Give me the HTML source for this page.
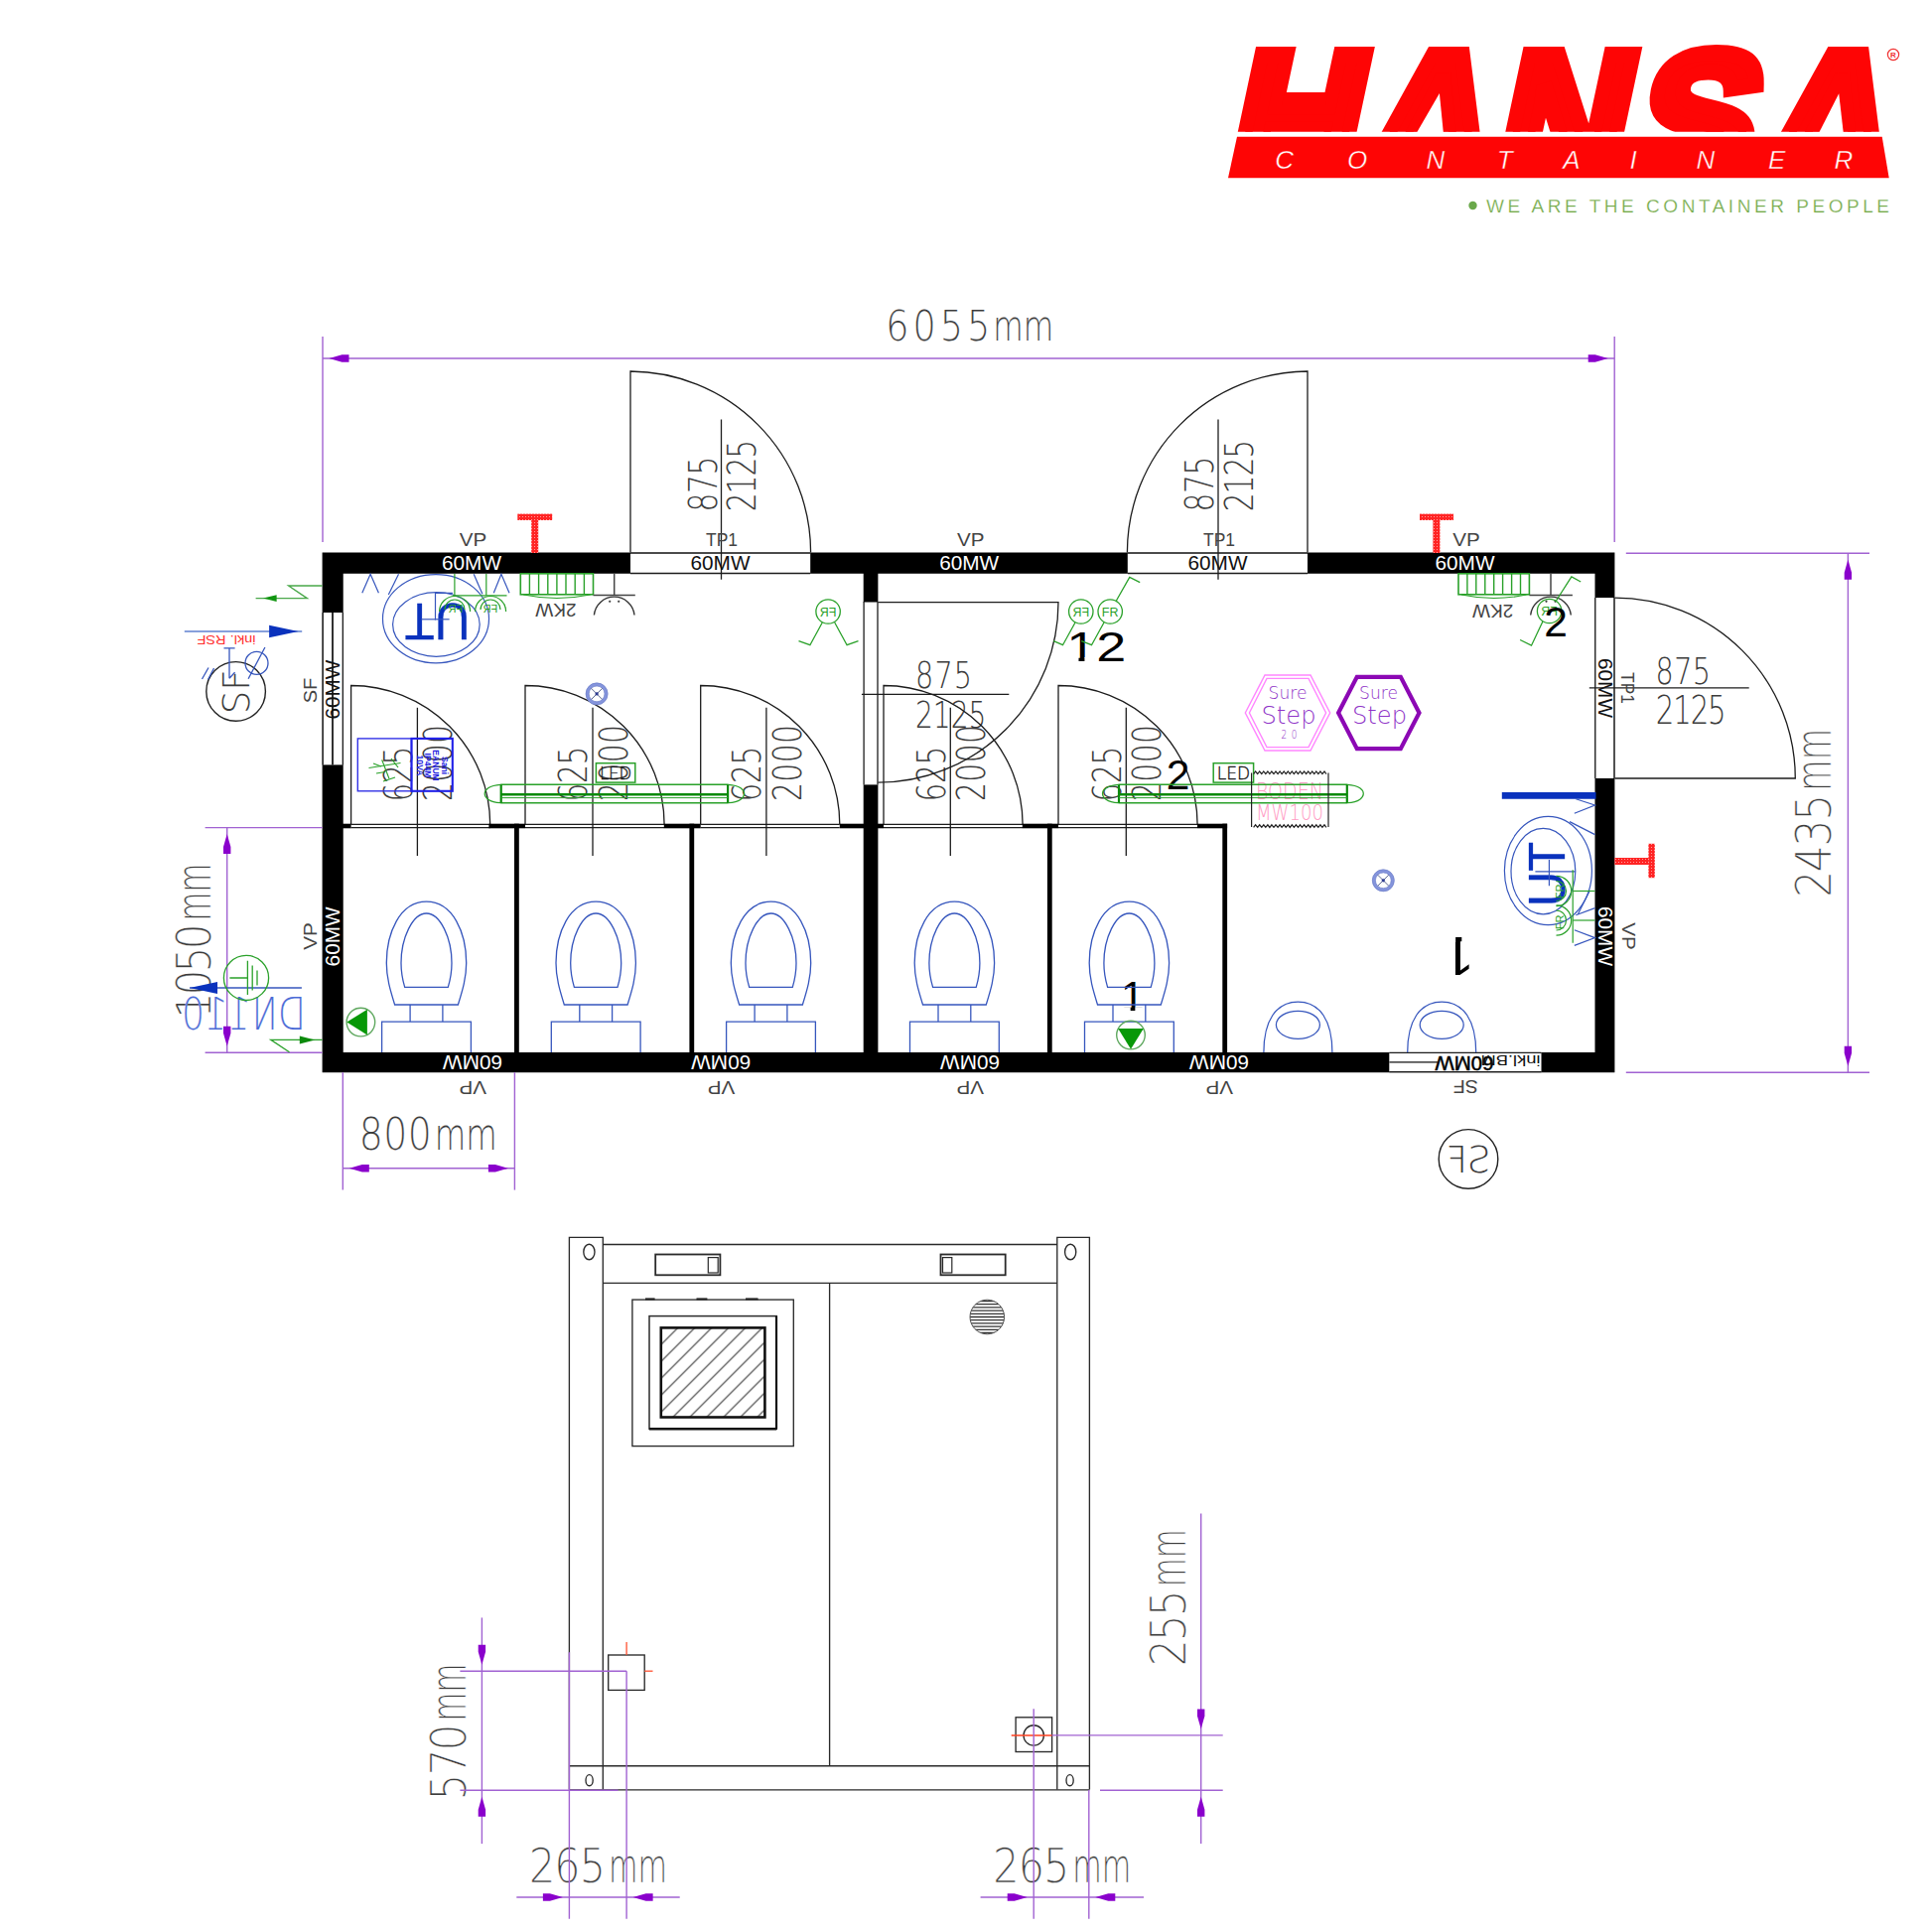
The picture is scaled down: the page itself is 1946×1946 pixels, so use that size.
<!DOCTYPE html>
<html><head><meta charset="utf-8"><title>Hansa Container - Sanitaercontainer Grundriss</title>
<style>html,body{margin:0;padding:0;background:#fff}svg{display:block}</style></head>
<body>
<svg width="1946" height="1946" viewBox="0 0 1946 1946">
<rect width="1946" height="1946" fill="#fff"/>
<text transform="translate(400.4,779.5) rotate(-90) scale(0.76,1)" y="14.2" font-family="'DejaVu Sans Light','DejaVu Sans','Liberation Sans',sans-serif" font-size="39.1" font-weight="200" fill="#3c3c3c" text-anchor="middle" textLength="73.7" lengthAdjust="spacing" >625</text>
<text transform="translate(440.9,768.5) rotate(-90) scale(0.76,1)" y="14.2" font-family="'DejaVu Sans Light','DejaVu Sans','Liberation Sans',sans-serif" font-size="39.1" font-weight="200" fill="#3c3c3c" text-anchor="middle" textLength="101.3" lengthAdjust="spacing" >2000</text>
<text transform="translate(577.0,779.5) rotate(-90) scale(0.76,1)" y="14.2" font-family="'DejaVu Sans Light','DejaVu Sans','Liberation Sans',sans-serif" font-size="39.1" font-weight="200" fill="#3c3c3c" text-anchor="middle" textLength="73.7" lengthAdjust="spacing" >625</text>
<text transform="translate(617.5,768.5) rotate(-90) scale(0.76,1)" y="14.2" font-family="'DejaVu Sans Light','DejaVu Sans','Liberation Sans',sans-serif" font-size="39.1" font-weight="200" fill="#3c3c3c" text-anchor="middle" textLength="101.3" lengthAdjust="spacing" >2000</text>
<text transform="translate(751.9,779.5) rotate(-90) scale(0.76,1)" y="14.2" font-family="'DejaVu Sans Light','DejaVu Sans','Liberation Sans',sans-serif" font-size="39.1" font-weight="200" fill="#3c3c3c" text-anchor="middle" textLength="73.7" lengthAdjust="spacing" >625</text>
<text transform="translate(792.4,768.5) rotate(-90) scale(0.76,1)" y="14.2" font-family="'DejaVu Sans Light','DejaVu Sans','Liberation Sans',sans-serif" font-size="39.1" font-weight="200" fill="#3c3c3c" text-anchor="middle" textLength="101.3" lengthAdjust="spacing" >2000</text>
<text transform="translate(937.3,779.5) rotate(-90) scale(0.76,1)" y="14.2" font-family="'DejaVu Sans Light','DejaVu Sans','Liberation Sans',sans-serif" font-size="39.1" font-weight="200" fill="#3c3c3c" text-anchor="middle" textLength="73.7" lengthAdjust="spacing" >625</text>
<text transform="translate(977.8,768.5) rotate(-90) scale(0.76,1)" y="14.2" font-family="'DejaVu Sans Light','DejaVu Sans','Liberation Sans',sans-serif" font-size="39.1" font-weight="200" fill="#3c3c3c" text-anchor="middle" textLength="101.3" lengthAdjust="spacing" >2000</text>
<text transform="translate(1114.3,779.5) rotate(-90) scale(0.76,1)" y="14.2" font-family="'DejaVu Sans Light','DejaVu Sans','Liberation Sans',sans-serif" font-size="39.1" font-weight="200" fill="#3c3c3c" text-anchor="middle" textLength="73.7" lengthAdjust="spacing" >625</text>
<text transform="translate(1154.8,768.5) rotate(-90) scale(0.76,1)" y="14.2" font-family="'DejaVu Sans Light','DejaVu Sans','Liberation Sans',sans-serif" font-size="39.1" font-weight="200" fill="#3c3c3c" text-anchor="middle" textLength="101.3" lengthAdjust="spacing" >2000</text>
<text transform="translate(707.5,487.5) rotate(-90) scale(0.76,1)" y="14.2" font-family="'DejaVu Sans Light','DejaVu Sans','Liberation Sans',sans-serif" font-size="39.1" font-weight="200" fill="#3c3c3c" text-anchor="middle" textLength="73.7" lengthAdjust="spacing" >875</text>
<text transform="translate(746.8,479.0) rotate(-90) scale(0.76,1)" y="14.2" font-family="'DejaVu Sans Light','DejaVu Sans','Liberation Sans',sans-serif" font-size="39.1" font-weight="200" fill="#3c3c3c" text-anchor="middle" textLength="95.4" lengthAdjust="spacing" >2125</text>
<text transform="translate(1208.0,487.5) rotate(-90) scale(0.76,1)" y="14.2" font-family="'DejaVu Sans Light','DejaVu Sans','Liberation Sans',sans-serif" font-size="39.1" font-weight="200" fill="#3c3c3c" text-anchor="middle" textLength="73.7" lengthAdjust="spacing" >875</text>
<text transform="translate(1247.3,479.0) rotate(-90) scale(0.76,1)" y="14.2" font-family="'DejaVu Sans Light','DejaVu Sans','Liberation Sans',sans-serif" font-size="39.1" font-weight="200" fill="#3c3c3c" text-anchor="middle" textLength="95.4" lengthAdjust="spacing" >2125</text>
<text transform="translate(1695.3,675.0) rotate(0) scale(0.76,1)" y="13.8" font-family="'DejaVu Sans Light','DejaVu Sans','Liberation Sans',sans-serif" font-size="37.7" font-weight="200" fill="#3c3c3c" text-anchor="middle" textLength="73.0" lengthAdjust="spacing" >875</text>
<text transform="translate(1703.2,714.5) rotate(0) scale(0.76,1)" y="14.0" font-family="'DejaVu Sans Light','DejaVu Sans','Liberation Sans',sans-serif" font-size="38.4" font-weight="200" fill="#3c3c3c" text-anchor="middle" textLength="93.4" lengthAdjust="spacing" >2125</text>
<text transform="translate(950.5,679.5) rotate(0) scale(0.76,1)" y="13.8" font-family="'DejaVu Sans Light','DejaVu Sans','Liberation Sans',sans-serif" font-size="37.7" font-weight="200" fill="#3c3c3c" text-anchor="middle" textLength="75.0" lengthAdjust="spacing" >875</text>
<text transform="translate(957.7,719.5) rotate(0) scale(0.76,1)" y="13.5" font-family="'DejaVu Sans Light','DejaVu Sans','Liberation Sans',sans-serif" font-size="37.0" font-weight="200" fill="#3c3c3c" text-anchor="middle" textLength="94.1" lengthAdjust="spacing" >2125</text>
<g transform="translate(1104.2,650.5) rotate(0) scale(1.27,1)">
<text y="15.2" font-family="'Liberation Sans',sans-serif" font-size="42.5" fill="#000" text-anchor="middle">12</text>
<rect x="-22.02" y="11.47" width="8.07" height="4.25" fill="#fff"/>
<rect x="-9.27" y="11.47" width="8.07" height="4.25" fill="#fff"/>
</g>
<g transform="translate(1140.8,1003.0) rotate(0) scale(1,1)">
<text y="15.2" font-family="'Liberation Sans',sans-serif" font-size="42.5" fill="#000" text-anchor="middle">1</text>
<rect x="-10.20" y="11.47" width="8.07" height="4.25" fill="#fff"/>
<rect x="2.55" y="11.47" width="8.07" height="4.25" fill="#fff"/>
</g>
<g transform="translate(1469.5,964.2) rotate(180) scale(1,1)">
<text y="20.0" font-family="'Liberation Sans',sans-serif" font-size="56" fill="#000" text-anchor="middle">1</text>
<rect x="-13.44" y="15.12" width="10.64" height="5.60" fill="#fff"/>
<rect x="3.36" y="15.12" width="10.64" height="5.60" fill="#fff"/>
</g>
<text transform="translate(1297.0,697.5) rotate(0)" y="6.2" font-family="'DejaVu Sans Light','DejaVu Sans','Liberation Sans',sans-serif" font-size="17.1" font-weight="200" fill="#8f35c8" text-anchor="middle" textLength="39.0" lengthAdjust="spacingAndGlyphs" >Sure</text>
<text transform="translate(1298.0,720.5) rotate(0)" y="8.8" font-family="'DejaVu Sans Light','DejaVu Sans','Liberation Sans',sans-serif" font-size="24.0" font-weight="200" fill="#8f35c8" text-anchor="middle" textLength="55.0" lengthAdjust="spacingAndGlyphs" >Step</text>
<text transform="translate(1298.5,740.0) rotate(0) scale(0.76,1)" y="4.2" font-family="'DejaVu Sans Light','DejaVu Sans','Liberation Sans',sans-serif" font-size="11.7" font-weight="200" fill="#8f35c8" text-anchor="middle" textLength="21.1" lengthAdjust="spacing" >20</text>
<text transform="translate(1388.5,697.5) rotate(0)" y="6.2" font-family="'DejaVu Sans Light','DejaVu Sans','Liberation Sans',sans-serif" font-size="17.1" font-weight="200" fill="#8f35c8" text-anchor="middle" textLength="39.0" lengthAdjust="spacingAndGlyphs" >Sure</text>
<text transform="translate(1389.5,720.5) rotate(0)" y="8.8" font-family="'DejaVu Sans Light','DejaVu Sans','Liberation Sans',sans-serif" font-size="24.0" font-weight="200" fill="#8f35c8" text-anchor="middle" textLength="55.0" lengthAdjust="spacingAndGlyphs" >Step</text>
<text transform="translate(1299.0,796.0) rotate(0)" y="8.5" font-family="'DejaVu Sans Light','DejaVu Sans','Liberation Sans',sans-serif" font-size="23.3" font-weight="200" fill="#ff9cc4" text-anchor="middle" textLength="68.0" lengthAdjust="spacingAndGlyphs" >BODEN</text>
<text transform="translate(1299.0,818.0) rotate(0)" y="8.0" font-family="'DejaVu Sans Light','DejaVu Sans','Liberation Sans',sans-serif" font-size="21.9" font-weight="200" fill="#ff9cc4" text-anchor="middle" textLength="68.0" lengthAdjust="spacingAndGlyphs" >MW100</text>
<text transform="translate(237.3,696.8) rotate(-90)" y="13.8" font-family="'DejaVu Sans Light','DejaVu Sans','Liberation Sans',sans-serif" font-size="37.7" font-weight="200" fill="#3c3c3c" text-anchor="middle" textLength="45.0" lengthAdjust="spacingAndGlyphs" >SF</text>
<text transform="translate(1479.0,1167.4) rotate(0) scale(-1,1)" y="13.8" font-family="'DejaVu Sans Light','DejaVu Sans','Liberation Sans',sans-serif" font-size="37.7" font-weight="200" fill="#3c3c3c" text-anchor="middle" textLength="45.0" lengthAdjust="spacingAndGlyphs" >SF</text>
<g transform="translate(976.7,327.5) rotate(0)" font-family="'DejaVu Sans Light','DejaVu Sans','Liberation Sans',sans-serif" font-weight="200" font-size="42.5" fill="#3c3c3c" stroke="#fff" stroke-width="0.14"><text transform="translate(-84.5,0) scale(0.86,1)" y="15.5" textLength="122.1" lengthAdjust="spacing">6055</text><text x="23.5" y="15.5" textLength="61.0" lengthAdjust="spacingAndGlyphs">mm</text></g>
<g transform="translate(1826.3,818.8) rotate(-90)" font-family="'DejaVu Sans Light','DejaVu Sans','Liberation Sans',sans-serif" font-weight="200" font-size="49.4" fill="#3c3c3c" stroke="#fff" stroke-width="0.42"><text transform="translate(-85.0,0) scale(0.86,1)" y="18.0" textLength="120.9" lengthAdjust="spacing">2435</text><text x="22.0" y="18.0" textLength="63.0" lengthAdjust="spacingAndGlyphs">mm</text></g>
<g transform="translate(194.5,947.5) rotate(-90)" font-family="'DejaVu Sans Light','DejaVu Sans','Liberation Sans',sans-serif" font-weight="200" font-size="47.3" fill="#3c3c3c" stroke="#fff" stroke-width="0.34"><text transform="translate(-78.0,0) scale(0.86,1)" y="17.2" textLength="110.5" lengthAdjust="spacing">1050</text><text x="20.0" y="17.2" textLength="58.0" lengthAdjust="spacingAndGlyphs">mm</text></g>
<g transform="translate(431.3,1142.0) rotate(0)" font-family="'DejaVu Sans Light','DejaVu Sans','Liberation Sans',sans-serif" font-weight="200" font-size="43.9" fill="#3c3c3c" stroke="#fff" stroke-width="0.19"><text transform="translate(-69.5,0) scale(0.86,1)" y="16.0" textLength="84.9" lengthAdjust="spacing">800</text><text x="6.5" y="16.0" textLength="63.0" lengthAdjust="spacingAndGlyphs">mm</text></g>
<text transform="translate(245.4,1021.0) rotate(0) scale(-1,1)" y="16.0" font-family="'DejaVu Sans Light','DejaVu Sans','Liberation Sans',sans-serif" font-size="43.9" font-weight="200" fill="#4a6ad6" text-anchor="middle" textLength="125.0" lengthAdjust="spacingAndGlyphs" stroke="#fff" stroke-width="0.19">DN110</text>
<g transform="translate(450.5,1744.5) rotate(-90)" font-family="'DejaVu Sans Light','DejaVu Sans','Liberation Sans',sans-serif" font-weight="200" font-size="49.4" fill="#3c3c3c" stroke="#fff" stroke-width="0.42"><text transform="translate(-69.0,0) scale(0.86,1)" y="18.0" textLength="89.5" lengthAdjust="spacing">570</text><text x="11.0" y="18.0" textLength="58.0" lengthAdjust="spacingAndGlyphs">mm</text></g>
<g transform="translate(602.5,1878.5) rotate(0)" font-family="'DejaVu Sans Light','DejaVu Sans','Liberation Sans',sans-serif" font-weight="200" font-size="48.0" fill="#3c3c3c" stroke="#fff" stroke-width="0.37"><text transform="translate(-69.5,0) scale(0.86,1)" y="17.5" textLength="89.5" lengthAdjust="spacing">265</text><text x="10.5" y="17.5" textLength="59.0" lengthAdjust="spacingAndGlyphs">mm</text></g>
<g transform="translate(1175.5,1609.3) rotate(-90)" font-family="'DejaVu Sans Light','DejaVu Sans','Liberation Sans',sans-serif" font-weight="200" font-size="49.4" fill="#3c3c3c" stroke="#fff" stroke-width="0.42"><text transform="translate(-69.0,0) scale(0.86,1)" y="18.0" textLength="89.5" lengthAdjust="spacing">255</text><text x="11.0" y="18.0" textLength="58.0" lengthAdjust="spacingAndGlyphs">mm</text></g>
<g transform="translate(1069.8,1878.5) rotate(0)" font-family="'DejaVu Sans Light','DejaVu Sans','Liberation Sans',sans-serif" font-weight="200" font-size="48.0" fill="#3c3c3c" stroke="#fff" stroke-width="0.37"><text transform="translate(-69.5,0) scale(0.86,1)" y="17.5" textLength="89.5" lengthAdjust="spacing">265</text><text x="10.5" y="17.5" textLength="59.0" lengthAdjust="spacingAndGlyphs">mm</text></g>
<defs><clipPath id="lc"><rect x="1230" y="40" width="690" height="92.7"/></clipPath></defs>
<g clip-path="url(#lc)"><text id="hansa" transform="translate(1230.65,187.4) skewX(-12) scale(0.93,1)" x="0 144.7 290 438.7 577.2" y="0" font-family="'Liberation Sans',sans-serif" font-weight="bold" font-size="192" fill="#fe0505" stroke="#fe0505" stroke-width="16" stroke-linejoin="miter" stroke-miterlimit="2.5">HANSA</text></g>
<polygon points="1294.0,93.0 1338.0,93.0 1335.0,106.0 1291.0,106.0" fill="#fe0505" />
<polygon points="1449.9,94.0 1453.8,133.2 1427.2,133.2" fill="#fff" />
<polygon points="1852.2,94.3 1856.7,133.2 1832.4,133.2" fill="#fff" />
<polygon points="1246.0,137.7 1895.7,137.7 1902.7,179.2 1237.0,179.2" fill="#fe0505" />
<text x="1284.2 1356.9 1436.6 1507.7 1574.3 1641.4 1708.6 1781.0 1847.6" y="169.5" font-family="'Liberation Sans',sans-serif" font-style="italic" font-size="26" fill="#fff" stroke="#fe0505" stroke-width="0.45">CONTAINER</text>
<text x="1497" y="213.5" font-family="'Liberation Sans',sans-serif" font-size="19" fill="#74aa48" stroke="#fff" stroke-width="0.25" textLength="406" lengthAdjust="spacing">WE ARE THE CONTAINER PEOPLE</text>
<circle cx="1483.5" cy="207.0" r="4.2" fill="#6aa84a" stroke="none" stroke-width="0"/>
<circle cx="1907.0" cy="55.0" r="5.6" fill="none" stroke="#f03030" stroke-width="1.2"/>
<text transform="translate(1907.0,55.0) rotate(0)" y="2.9" font-family="'Liberation Sans',sans-serif" font-size="8" font-weight="bold" fill="#f03030" text-anchor="middle" >R</text>
<ellipse cx="439.0" cy="623.2" rx="53.5" ry="44.6" fill="none" stroke="#3656bd" stroke-width="1.2"/>
<ellipse cx="439.4" cy="629.0" rx="43.8" ry="32.3" fill="none" stroke="#3656bd" stroke-width="1.2"/>
<ellipse cx="1559.4" cy="877.0" rx="44.0" ry="54.6" fill="none" stroke="#3656bd" stroke-width="1.2"/>
<ellipse cx="1554.4" cy="877.6" rx="32.4" ry="43.2" fill="none" stroke="#3656bd" stroke-width="1.2"/>
<path d="M324.6,556.6H1626.4V1080.2H324.6Z M345.70000000000005,577.8V1060.0H1606.5V577.8Z" fill="#000" fill-rule="evenodd"/>
<rect x="635.0" y="557.2" width="181.2" height="20.3" fill="#fff" />
<line x1="635.0" y1="557.2" x2="816.2" y2="557.2" stroke="#1c1c1c" stroke-width="1.3" />
<line x1="635.0" y1="577.5" x2="816.2" y2="577.5" stroke="#1c1c1c" stroke-width="1.3" />
<rect x="1135.8" y="557.2" width="181.2" height="20.3" fill="#fff" />
<line x1="1135.8" y1="557.2" x2="1317.0" y2="557.2" stroke="#1c1c1c" stroke-width="1.3" />
<line x1="1135.8" y1="577.5" x2="1317.0" y2="577.5" stroke="#1c1c1c" stroke-width="1.3" />
<rect x="325.2" y="617.0" width="20.1" height="153.4" fill="#fff" />
<line x1="325.2" y1="617.0" x2="325.2" y2="770.4" stroke="#1c1c1c" stroke-width="1.3" />
<line x1="345.3" y1="617.0" x2="345.3" y2="770.4" stroke="#1c1c1c" stroke-width="1.3" />
<line x1="335.0" y1="617.0" x2="335.0" y2="770.4" stroke="#1c1c1c" stroke-width="1.8" />
<rect x="1606.8" y="602.0" width="19.1" height="182.0" fill="#fff" />
<line x1="1606.8" y1="602.0" x2="1606.8" y2="784.0" stroke="#1c1c1c" stroke-width="1.3" />
<line x1="1625.9" y1="602.0" x2="1625.9" y2="784.0" stroke="#1c1c1c" stroke-width="1.3" />
<rect x="1399.3" y="1060.4" width="153.2" height="19.2" fill="#fff" />
<line x1="1399.3" y1="1060.4" x2="1552.5" y2="1060.4" stroke="#1c1c1c" stroke-width="1.3" />
<line x1="1399.3" y1="1079.6" x2="1552.5" y2="1079.6" stroke="#1c1c1c" stroke-width="1.3" />
<line x1="1399.3" y1="1069.9" x2="1448.0" y2="1069.9" stroke="#555" stroke-width="1.9" />
<rect x="869.7" y="576.8" width="14.7" height="29.7" fill="#000" />
<rect x="869.7" y="790.4" width="14.7" height="270.6" fill="#000" />
<line x1="870.1" y1="606.0" x2="870.1" y2="790.4" stroke="#1c1c1c" stroke-width="1.3" />
<line x1="884.0" y1="606.0" x2="884.0" y2="790.4" stroke="#1c1c1c" stroke-width="1.3" />
<path d="M635.0,556.6L635.0,374.0A182.6,182.6 0 0 1 816.6,556.6" fill="none" stroke="#1c1c1c" stroke-width="1.3" />
<path d="M1317.0,556.6L1317.0,374.0A182.6,182.6 0 0 0 1135.4,556.6" fill="none" stroke="#1c1c1c" stroke-width="1.3" />
<path d="M1626.4,784.0L1808.3,784.0A181.9,181.9 0 0 0 1626.4,602.1" fill="none" stroke="#1c1c1c" stroke-width="1.3" />
<path d="M884.4,606.6L1066.0,606.6A181.6,181.6 0 0 1 884.4,788.2" fill="none" stroke="#1c1c1c" stroke-width="1.3" />
<path d="M353.6,830.6L353.6,690.5A140.1,140.1 0 0 1 493.7,830.6" fill="none" stroke="#1c1c1c" stroke-width="1.3" />
<line x1="353.6" y1="830.3" x2="493.6" y2="830.3" stroke="#1c1c1c" stroke-width="1.3" />
<line x1="353.6" y1="833.6" x2="493.6" y2="833.6" stroke="#1c1c1c" stroke-width="1.3" />
<path d="M529.0,830.6L529.0,690.5A140.1,140.1 0 0 1 669.1,830.6" fill="none" stroke="#1c1c1c" stroke-width="1.3" />
<line x1="529.0" y1="830.3" x2="669.0" y2="830.3" stroke="#1c1c1c" stroke-width="1.3" />
<line x1="529.0" y1="833.6" x2="669.0" y2="833.6" stroke="#1c1c1c" stroke-width="1.3" />
<path d="M705.7,830.6L705.7,690.5A140.1,140.1 0 0 1 845.8,830.6" fill="none" stroke="#1c1c1c" stroke-width="1.3" />
<line x1="705.7" y1="830.3" x2="845.7" y2="830.3" stroke="#1c1c1c" stroke-width="1.3" />
<line x1="705.7" y1="833.6" x2="845.7" y2="833.6" stroke="#1c1c1c" stroke-width="1.3" />
<path d="M890.0,830.6L890.0,690.5A140.1,140.1 0 0 1 1030.1,830.6" fill="none" stroke="#1c1c1c" stroke-width="1.3" />
<line x1="890.0" y1="830.3" x2="1030.0" y2="830.3" stroke="#1c1c1c" stroke-width="1.3" />
<line x1="890.0" y1="833.6" x2="1030.0" y2="833.6" stroke="#1c1c1c" stroke-width="1.3" />
<path d="M1066.0,830.6L1066.0,690.5A140.1,140.1 0 0 1 1206.1,830.6" fill="none" stroke="#1c1c1c" stroke-width="1.3" />
<line x1="1066.0" y1="830.3" x2="1206.0" y2="830.3" stroke="#1c1c1c" stroke-width="1.3" />
<line x1="1066.0" y1="833.6" x2="1206.0" y2="833.6" stroke="#1c1c1c" stroke-width="1.3" />
<rect x="344.7" y="829.7" width="8.9" height="4.6" fill="#000" />
<rect x="492.4" y="829.7" width="36.6" height="4.6" fill="#000" />
<rect x="668.8" y="829.7" width="36.9" height="4.6" fill="#000" />
<rect x="845.8" y="829.7" width="24.9" height="4.6" fill="#000" />
<rect x="883.4" y="829.7" width="6.6" height="4.6" fill="#000" />
<rect x="1029.8" y="829.7" width="36.2" height="4.6" fill="#000" />
<rect x="1206.0" y="829.7" width="30.1" height="4.6" fill="#000" />
<rect x="518.0" y="829.7" width="4.8" height="231.3" fill="#000" />
<rect x="694.4" y="829.7" width="4.8" height="231.3" fill="#000" />
<rect x="1054.9" y="829.7" width="4.8" height="231.3" fill="#000" />
<rect x="1231.3" y="829.7" width="4.8" height="231.3" fill="#000" />
<line x1="420.4" y1="712.8" x2="420.4" y2="862.0" stroke="#1c1c1c" stroke-width="1.3" />
<line x1="597.0" y1="712.8" x2="597.0" y2="862.0" stroke="#1c1c1c" stroke-width="1.3" />
<line x1="771.9" y1="712.8" x2="771.9" y2="862.0" stroke="#1c1c1c" stroke-width="1.3" />
<line x1="957.3" y1="712.8" x2="957.3" y2="862.0" stroke="#1c1c1c" stroke-width="1.3" />
<line x1="1134.3" y1="712.8" x2="1134.3" y2="862.0" stroke="#1c1c1c" stroke-width="1.3" />
<line x1="726.5" y1="422.5" x2="726.5" y2="583.7" stroke="#1c1c1c" stroke-width="1.3" />
<line x1="1227.0" y1="422.5" x2="1227.0" y2="583.7" stroke="#1c1c1c" stroke-width="1.3" />
<line x1="1600.8" y1="692.9" x2="1761.7" y2="692.9" stroke="#1c1c1c" stroke-width="1.3" />
<line x1="867.9" y1="699.4" x2="1016.3" y2="699.4" stroke="#1c1c1c" stroke-width="1.3" />
<path d="M397.6,1012 C393.0,997.0 389.3,985.0 389.3,970.0 C389.3,940.0 402.5,908.2 429.5,908.2 C456.5,908.2 469.7,940.0 469.7,970.0 C469.7,985.0 466.0,997.0 461.4,1012.0Z" fill="none" stroke="#3656bd" stroke-width="1.3" />
<path d="M407.7,994.4 C405.5,987.0 404.0,979.0 404.0,970.0 C404.0,945.0 415.5,920.0 429.5,920.0 C443.5,920.0 455.0,945.0 455.0,970.0 C455.0,979.0 453.5,987.0 451.3,994.4Z" fill="none" stroke="#3656bd" stroke-width="1.3" />
<line x1="413.1" y1="1012.0" x2="413.1" y2="1029.1" stroke="#3656bd" stroke-width="1.3" />
<line x1="445.9" y1="1012.0" x2="445.9" y2="1029.1" stroke="#3656bd" stroke-width="1.3" />
<path d="M384.6,1060 V1029.1 H474.4 V1060" fill="none" stroke="#3656bd" stroke-width="1.3" />
<path d="M568.3,1012 C563.7,997.0 560.0,985.0 560.0,970.0 C560.0,940.0 573.2,908.2 600.2,908.2 C627.2,908.2 640.4,940.0 640.4,970.0 C640.4,985.0 636.7,997.0 632.1,1012.0Z" fill="none" stroke="#3656bd" stroke-width="1.3" />
<path d="M578.4,994.4 C576.2,987.0 574.7,979.0 574.7,970.0 C574.7,945.0 586.2,920.0 600.2,920.0 C614.2,920.0 625.7,945.0 625.7,970.0 C625.7,979.0 624.2,987.0 622.0,994.4Z" fill="none" stroke="#3656bd" stroke-width="1.3" />
<line x1="583.8" y1="1012.0" x2="583.8" y2="1029.1" stroke="#3656bd" stroke-width="1.3" />
<line x1="616.6" y1="1012.0" x2="616.6" y2="1029.1" stroke="#3656bd" stroke-width="1.3" />
<path d="M555.3,1060 V1029.1 H645.1 V1060" fill="none" stroke="#3656bd" stroke-width="1.3" />
<path d="M744.6,1012 C740.0,997.0 736.3,985.0 736.3,970.0 C736.3,940.0 749.5,908.2 776.5,908.2 C803.5,908.2 816.7,940.0 816.7,970.0 C816.7,985.0 813.0,997.0 808.4,1012.0Z" fill="none" stroke="#3656bd" stroke-width="1.3" />
<path d="M754.7,994.4 C752.5,987.0 751.0,979.0 751.0,970.0 C751.0,945.0 762.5,920.0 776.5,920.0 C790.5,920.0 802.0,945.0 802.0,970.0 C802.0,979.0 800.5,987.0 798.3,994.4Z" fill="none" stroke="#3656bd" stroke-width="1.3" />
<line x1="760.1" y1="1012.0" x2="760.1" y2="1029.1" stroke="#3656bd" stroke-width="1.3" />
<line x1="792.9" y1="1012.0" x2="792.9" y2="1029.1" stroke="#3656bd" stroke-width="1.3" />
<path d="M731.6,1060 V1029.1 H821.4 V1060" fill="none" stroke="#3656bd" stroke-width="1.3" />
<path d="M929.5,1012 C924.9,997.0 921.2,985.0 921.2,970.0 C921.2,940.0 934.4,908.2 961.4,908.2 C988.4,908.2 1001.6,940.0 1001.6,970.0 C1001.6,985.0 997.9,997.0 993.3,1012.0Z" fill="none" stroke="#3656bd" stroke-width="1.3" />
<path d="M939.6,994.4 C937.4,987.0 935.9,979.0 935.9,970.0 C935.9,945.0 947.4,920.0 961.4,920.0 C975.4,920.0 986.9,945.0 986.9,970.0 C986.9,979.0 985.4,987.0 983.2,994.4Z" fill="none" stroke="#3656bd" stroke-width="1.3" />
<line x1="945.0" y1="1012.0" x2="945.0" y2="1029.1" stroke="#3656bd" stroke-width="1.3" />
<line x1="977.8" y1="1012.0" x2="977.8" y2="1029.1" stroke="#3656bd" stroke-width="1.3" />
<path d="M916.5,1060 V1029.1 H1006.3 V1060" fill="none" stroke="#3656bd" stroke-width="1.3" />
<path d="M1105.5,1012 C1100.9,997.0 1097.2,985.0 1097.2,970.0 C1097.2,940.0 1110.4,908.2 1137.4,908.2 C1164.4,908.2 1177.6,940.0 1177.6,970.0 C1177.6,985.0 1173.9,997.0 1169.3,1012.0Z" fill="none" stroke="#3656bd" stroke-width="1.3" />
<path d="M1115.6,994.4 C1113.4,987.0 1111.9,979.0 1111.9,970.0 C1111.9,945.0 1123.4,920.0 1137.4,920.0 C1151.4,920.0 1162.9,945.0 1162.9,970.0 C1162.9,979.0 1161.4,987.0 1159.2,994.4Z" fill="none" stroke="#3656bd" stroke-width="1.3" />
<line x1="1121.0" y1="1012.0" x2="1121.0" y2="1029.1" stroke="#3656bd" stroke-width="1.3" />
<line x1="1153.8" y1="1012.0" x2="1153.8" y2="1029.1" stroke="#3656bd" stroke-width="1.3" />
<path d="M1092.5,1060 V1029.1 H1182.3 V1060" fill="none" stroke="#3656bd" stroke-width="1.3" />
<path d="M1272.9,1060 C1272.9,1028 1285.4,1009 1307.4,1009 C1329.4,1009 1341.9,1028 1341.9,1060" fill="none" stroke="#3656bd" stroke-width="1.25" />
<ellipse cx="1307.4" cy="1032.3" rx="22.0" ry="14.0" fill="none" stroke="#3656bd" stroke-width="1.25"/>
<path d="M1417.7,1060 C1417.7,1028 1430.2,1009 1452.2,1009 C1474.2,1009 1486.7,1028 1486.7,1060" fill="none" stroke="#3656bd" stroke-width="1.25" />
<ellipse cx="1452.2" cy="1032.3" rx="22.0" ry="14.0" fill="none" stroke="#3656bd" stroke-width="1.25"/>
<circle cx="601.1" cy="698.9" r="9.5" fill="#fff" stroke="#8494dc" stroke-width="3.2"/>
<circle cx="601.1" cy="698.9" r="11.0" fill="none" stroke="#6f80c8" stroke-width="0.7"/>
<circle cx="601.1" cy="698.9" r="7.9" fill="none" stroke="#6f80c8" stroke-width="0.7"/>
<line x1="595.5" y1="693.3" x2="606.7" y2="704.5" stroke="#5b6890" stroke-width="1.0" />
<line x1="595.5" y1="704.5" x2="606.7" y2="693.3" stroke="#5b6890" stroke-width="1.0" />
<circle cx="601.1" cy="698.9" r="1.4" fill="#2c3a90" stroke="#2c3a90" stroke-width="0.5"/>
<circle cx="1393.3" cy="886.8" r="9.5" fill="#fff" stroke="#8494dc" stroke-width="3.2"/>
<circle cx="1393.3" cy="886.8" r="11.0" fill="none" stroke="#6f80c8" stroke-width="0.7"/>
<circle cx="1393.3" cy="886.8" r="7.9" fill="none" stroke="#6f80c8" stroke-width="0.7"/>
<line x1="1387.7" y1="881.2" x2="1398.9" y2="892.4" stroke="#5b6890" stroke-width="1.0" />
<line x1="1387.7" y1="892.4" x2="1398.9" y2="881.2" stroke="#5b6890" stroke-width="1.0" />
<circle cx="1393.3" cy="886.8" r="1.4" fill="#2c3a90" stroke="#2c3a90" stroke-width="0.5"/>
<text transform="translate(476.5,543.0) rotate(0)" y="6.5" font-family="'Liberation Sans',sans-serif" font-size="18.2" fill="#444" text-anchor="middle" textLength="27.5" lengthAdjust="spacingAndGlyphs" >VP</text>
<text transform="translate(475.0,566.9) rotate(0)" y="7.0" font-family="'Liberation Sans',sans-serif" font-size="19.6" fill="#fff" text-anchor="middle" textLength="60.0" lengthAdjust="spacingAndGlyphs" >60MW</text>
<text transform="translate(727.0,543.0) rotate(0)" y="6.5" font-family="'Liberation Sans',sans-serif" font-size="18.2" fill="#444" text-anchor="middle" textLength="32.0" lengthAdjust="spacingAndGlyphs" >TP1</text>
<text transform="translate(725.5,566.9) rotate(0)" y="7.0" font-family="'Liberation Sans',sans-serif" font-size="19.6" fill="#111" text-anchor="middle" textLength="60.0" lengthAdjust="spacingAndGlyphs" >60MW</text>
<text transform="translate(977.7,543.0) rotate(0)" y="6.5" font-family="'Liberation Sans',sans-serif" font-size="18.2" fill="#444" text-anchor="middle" textLength="27.5" lengthAdjust="spacingAndGlyphs" >VP</text>
<text transform="translate(976.2,566.9) rotate(0)" y="7.0" font-family="'Liberation Sans',sans-serif" font-size="19.6" fill="#fff" text-anchor="middle" textLength="60.0" lengthAdjust="spacingAndGlyphs" >60MW</text>
<text transform="translate(1228.0,543.0) rotate(0)" y="6.5" font-family="'Liberation Sans',sans-serif" font-size="18.2" fill="#444" text-anchor="middle" textLength="32.0" lengthAdjust="spacingAndGlyphs" >TP1</text>
<text transform="translate(1226.5,566.9) rotate(0)" y="7.0" font-family="'Liberation Sans',sans-serif" font-size="19.6" fill="#111" text-anchor="middle" textLength="60.0" lengthAdjust="spacingAndGlyphs" >60MW</text>
<text transform="translate(1477.0,543.0) rotate(0)" y="6.5" font-family="'Liberation Sans',sans-serif" font-size="18.2" fill="#444" text-anchor="middle" textLength="27.5" lengthAdjust="spacingAndGlyphs" >VP</text>
<text transform="translate(1475.5,566.9) rotate(0)" y="7.0" font-family="'Liberation Sans',sans-serif" font-size="19.6" fill="#fff" text-anchor="middle" textLength="60.0" lengthAdjust="spacingAndGlyphs" >60MW</text>
<text transform="translate(476.0,1070.2) rotate(180)" y="7.0" font-family="'Liberation Sans',sans-serif" font-size="19.6" fill="#fff" text-anchor="middle" textLength="60.0" lengthAdjust="spacingAndGlyphs" >60MW</text>
<text transform="translate(476.3,1095.3) rotate(180)" y="6.5" font-family="'Liberation Sans',sans-serif" font-size="18.2" fill="#444" text-anchor="middle" textLength="27.5" lengthAdjust="spacingAndGlyphs" >VP</text>
<text transform="translate(726.2,1070.2) rotate(180)" y="7.0" font-family="'Liberation Sans',sans-serif" font-size="19.6" fill="#fff" text-anchor="middle" textLength="60.0" lengthAdjust="spacingAndGlyphs" >60MW</text>
<text transform="translate(726.5,1095.3) rotate(180)" y="6.5" font-family="'Liberation Sans',sans-serif" font-size="18.2" fill="#444" text-anchor="middle" textLength="27.5" lengthAdjust="spacingAndGlyphs" >VP</text>
<text transform="translate(977.0,1070.2) rotate(180)" y="7.0" font-family="'Liberation Sans',sans-serif" font-size="19.6" fill="#fff" text-anchor="middle" textLength="60.0" lengthAdjust="spacingAndGlyphs" >60MW</text>
<text transform="translate(977.3,1095.3) rotate(180)" y="6.5" font-family="'Liberation Sans',sans-serif" font-size="18.2" fill="#444" text-anchor="middle" textLength="27.5" lengthAdjust="spacingAndGlyphs" >VP</text>
<text transform="translate(1228.0,1070.2) rotate(180)" y="7.0" font-family="'Liberation Sans',sans-serif" font-size="19.6" fill="#fff" text-anchor="middle" textLength="60.0" lengthAdjust="spacingAndGlyphs" >60MW</text>
<text transform="translate(1228.3,1095.3) rotate(180)" y="6.5" font-family="'Liberation Sans',sans-serif" font-size="18.2" fill="#444" text-anchor="middle" textLength="27.5" lengthAdjust="spacingAndGlyphs" >VP</text>
<text transform="translate(1474.9,1071.3) rotate(180)" y="7.3" font-family="'Liberation Sans',sans-serif" font-size="20.5" fill="#000" text-anchor="middle" textLength="59.0" lengthAdjust="spacingAndGlyphs" stroke="#000" stroke-width="0.5">60MW</text>
<text transform="translate(1521.5,1068.2) rotate(180)" y="5.0" font-family="'Liberation Sans',sans-serif" font-size="14" fill="#111" text-anchor="middle" textLength="60.0" lengthAdjust="spacingAndGlyphs" >inkl.BM</text>
<text transform="translate(1476.3,1094.3) rotate(180)" y="6.5" font-family="'Liberation Sans',sans-serif" font-size="18.2" fill="#444" text-anchor="middle" textLength="25.0" lengthAdjust="spacingAndGlyphs" >SF</text>
<text transform="translate(335.3,694.6) rotate(-90)" y="7.0" font-family="'Liberation Sans',sans-serif" font-size="19.6" fill="#111" text-anchor="middle" textLength="60.0" lengthAdjust="spacingAndGlyphs" >60MW</text>
<text transform="translate(312.1,695.5) rotate(-90)" y="6.8" font-family="'Liberation Sans',sans-serif" font-size="19" fill="#444" text-anchor="middle" textLength="25.5" lengthAdjust="spacingAndGlyphs" >SF</text>
<text transform="translate(335.3,943.4) rotate(-90)" y="7.0" font-family="'Liberation Sans',sans-serif" font-size="19.6" fill="#fff" text-anchor="middle" textLength="60.0" lengthAdjust="spacingAndGlyphs" >60MW</text>
<text transform="translate(312.0,943.0) rotate(-90)" y="6.5" font-family="'Liberation Sans',sans-serif" font-size="18.2" fill="#444" text-anchor="middle" textLength="27.5" lengthAdjust="spacingAndGlyphs" >VP</text>
<text transform="translate(1616.6,693.0) rotate(90)" y="7.0" font-family="'Liberation Sans',sans-serif" font-size="19.6" fill="#111" text-anchor="middle" textLength="60.0" lengthAdjust="spacingAndGlyphs" >60MW</text>
<text transform="translate(1639.5,693.0) rotate(90)" y="6.5" font-family="'Liberation Sans',sans-serif" font-size="18.2" fill="#444" text-anchor="middle" textLength="32.0" lengthAdjust="spacingAndGlyphs" >TP1</text>
<text transform="translate(1616.6,943.0) rotate(90)" y="7.0" font-family="'Liberation Sans',sans-serif" font-size="19.6" fill="#fff" text-anchor="middle" textLength="60.0" lengthAdjust="spacingAndGlyphs" >60MW</text>
<text transform="translate(1640.0,943.0) rotate(90)" y="6.5" font-family="'Liberation Sans',sans-serif" font-size="18.2" fill="#444" text-anchor="middle" textLength="27.5" lengthAdjust="spacingAndGlyphs" >VP</text>
<defs><pattern id="rh" width="3" height="3" patternUnits="userSpaceOnUse"><rect width="3" height="3" fill="#ff2424"/><rect x="1" y="1" width="1" height="1" fill="#ff9a9a"/></pattern></defs>
<rect x="521.3" y="517.6" width="34.9" height="6.4" fill="url(#rh)"/>
<rect x="535.2" y="524.0" width="7.0" height="33.0" fill="url(#rh)"/>
<rect x="1430.0" y="517.6" width="34.0" height="6.4" fill="url(#rh)"/>
<rect x="1443.4" y="524.0" width="7.0" height="33.0" fill="url(#rh)"/>
<rect x="1660.4" y="849.8" width="6.4" height="34.4" fill="url(#rh)"/>
<rect x="1626.4" y="864.0" width="34.4" height="7.0" fill="url(#rh)"/>
<rect x="524.3" y="577.8" width="73.2" height="21.0" fill="none" stroke="#2aa12a" stroke-width="1.6"/>
<line x1="533.4" y1="577.8" x2="533.4" y2="598.8" stroke="#2aa12a" stroke-width="1.4" />
<line x1="542.6" y1="577.8" x2="542.6" y2="598.8" stroke="#2aa12a" stroke-width="1.4" />
<line x1="551.8" y1="577.8" x2="551.8" y2="598.8" stroke="#2aa12a" stroke-width="1.4" />
<line x1="560.9" y1="577.8" x2="560.9" y2="598.8" stroke="#2aa12a" stroke-width="1.4" />
<line x1="570.0" y1="577.8" x2="570.0" y2="598.8" stroke="#2aa12a" stroke-width="1.4" />
<line x1="579.2" y1="577.8" x2="579.2" y2="598.8" stroke="#2aa12a" stroke-width="1.4" />
<line x1="588.4" y1="577.8" x2="588.4" y2="598.8" stroke="#2aa12a" stroke-width="1.4" />
<path d="M527.3,599 Q560.9,606 594.5,599" fill="none" stroke="#2aa12a" stroke-width="1.2" />
<rect x="1469.0" y="577.8" width="71.4" height="21.0" fill="none" stroke="#2aa12a" stroke-width="1.6"/>
<line x1="1477.9" y1="577.8" x2="1477.9" y2="598.8" stroke="#2aa12a" stroke-width="1.4" />
<line x1="1486.8" y1="577.8" x2="1486.8" y2="598.8" stroke="#2aa12a" stroke-width="1.4" />
<line x1="1495.8" y1="577.8" x2="1495.8" y2="598.8" stroke="#2aa12a" stroke-width="1.4" />
<line x1="1504.7" y1="577.8" x2="1504.7" y2="598.8" stroke="#2aa12a" stroke-width="1.4" />
<line x1="1513.6" y1="577.8" x2="1513.6" y2="598.8" stroke="#2aa12a" stroke-width="1.4" />
<line x1="1522.6" y1="577.8" x2="1522.6" y2="598.8" stroke="#2aa12a" stroke-width="1.4" />
<line x1="1531.5" y1="577.8" x2="1531.5" y2="598.8" stroke="#2aa12a" stroke-width="1.4" />
<path d="M1472.0,599 Q1504.7,606 1537.4,599" fill="none" stroke="#2aa12a" stroke-width="1.2" />
<text transform="translate(559.9,615.3) rotate(180)" y="6.8" font-family="'Liberation Sans',sans-serif" font-size="19" fill="#444" text-anchor="middle" >2KW</text>
<text transform="translate(1503.7,616.3) rotate(180)" y="6.8" font-family="'Liberation Sans',sans-serif" font-size="19" fill="#444" text-anchor="middle" >2KW</text>
<line x1="618.7" y1="577.8" x2="618.7" y2="599.5" stroke="#444" stroke-width="1.5" />
<line x1="597.5" y1="599.5" x2="639.8" y2="599.5" stroke="#444" stroke-width="1.5" />
<path d="M598.4,619.5 A20.4,20.4 0 0 1 639.0,619.5" fill="none" stroke="#333" stroke-width="1.4" />
<circle cx="614.2" cy="605.8" r="0.8" fill="#333" stroke="#333" stroke-width="0.6"/>
<circle cx="623.2" cy="605.8" r="0.8" fill="#333" stroke="#333" stroke-width="0.6"/>
<line x1="1562.0" y1="577.8" x2="1562.0" y2="599.5" stroke="#444" stroke-width="1.5" />
<line x1="1540.4" y1="599.5" x2="1583.9" y2="599.5" stroke="#444" stroke-width="1.5" />
<path d="M1541.7,619.5 A20.4,20.4 0 0 1 1582.3,619.5" fill="none" stroke="#333" stroke-width="1.4" />
<circle cx="1557.5" cy="605.8" r="0.8" fill="#333" stroke="#333" stroke-width="0.6"/>
<circle cx="1566.5" cy="605.8" r="0.8" fill="#333" stroke="#333" stroke-width="0.6"/>
<circle cx="834.1" cy="616.0" r="12.2" fill="none" stroke="#2aa12a" stroke-width="1.3"/>
<text transform="translate(834.1,616.0) rotate(0) scale(-1,1)" y="4.5" font-family="'Liberation Sans',sans-serif" font-size="12.5" fill="#2aa12a" text-anchor="middle" >FR</text>
<path d="M828.3,627.0L815.9,649.7L804.5,645.6" fill="none" stroke="#2aa12a" stroke-width="1.3" />
<path d="M840.7,627.0L853.1,649.7L864.5,645.6" fill="none" stroke="#2aa12a" stroke-width="1.3" />
<circle cx="1088.8" cy="616.0" r="12.2" fill="none" stroke="#2aa12a" stroke-width="1.3"/>
<text transform="translate(1088.8,616.0) rotate(0) scale(-1,1)" y="4.5" font-family="'Liberation Sans',sans-serif" font-size="12.5" fill="#2aa12a" text-anchor="middle" >FR</text>
<path d="M1083.0,627.0L1070.5,649.7L1061.2,645.6" fill="none" stroke="#2aa12a" stroke-width="1.3" />
<circle cx="1118.2" cy="616.0" r="12.2" fill="none" stroke="#2aa12a" stroke-width="1.3"/>
<text transform="translate(1118.2,616.0) rotate(0)" y="4.5" font-family="'Liberation Sans',sans-serif" font-size="12.5" fill="#2aa12a" text-anchor="middle" >FR</text>
<path d="M1124.4,605.0L1137.8,581.4L1148.2,586.6" fill="none" stroke="#2aa12a" stroke-width="1.3" />
<path d="M1112.0,627.0L1099.5,649.7L1089.2,645.6" fill="none" stroke="#2aa12a" stroke-width="1.3" />
<circle cx="1560.6" cy="615.5" r="12.2" fill="none" stroke="#2aa12a" stroke-width="1.3"/>
<text transform="translate(1560.6,615.5) rotate(0) scale(-1,1)" y="4.5" font-family="'Liberation Sans',sans-serif" font-size="12.5" fill="#2aa12a" text-anchor="middle" >FR</text>
<path d="M1567.5,605.0L1582.9,580.9L1592.2,586.0" fill="none" stroke="#2aa12a" stroke-width="1.3" />
<path d="M1553.9,626.0L1542.5,650.2L1531.1,644.5" fill="none" stroke="#2aa12a" stroke-width="1.3" />
<g transform="translate(1567.0,625.4) rotate(0) scale(1,1)">
<text y="15.2" font-family="'Liberation Sans',sans-serif" font-size="42.5" fill="#000" text-anchor="middle">2</text>
</g>
<g transform="translate(1186.6,779.6) rotate(0) scale(1,1)">
<text y="15.2" font-family="'Liberation Sans',sans-serif" font-size="42.5" fill="#000" text-anchor="middle">2</text>
</g>
<polygon points="1254.3,718.0 1274.0,680.0 1320.0,680.0 1339.7,718.0 1320.0,756.0 1274.0,756.0" fill="none" stroke="#ff86ff" stroke-width="1.4"/>
<polygon points="1258.4,718.0 1276.0,683.4 1318.0,683.4 1335.6,718.0 1318.0,752.6 1276.0,752.6" fill="none" stroke="#ff86ff" stroke-width="1.4"/>
<polygon points="1348.1,718.0 1366.8,681.8 1410.8,681.8 1429.5,718.0 1410.8,754.2 1366.8,754.2" fill="none" stroke="#8c08b4" stroke-width="4.2"/>
<path d="M504.2,790.3 H733.6 M504.2,808.7 H733.6" fill="none" stroke="#2aa12a" stroke-width="1.4" />
<path d="M504.2,790.3 C492.2,791 488.2,796 488.2,799.5 C488.2,803 492.2,808 504.2,808.7" fill="none" stroke="#2aa12a" stroke-width="1.2" />
<path d="M733.6,790.3 C745.6,791 749.6,796 749.6,799.5 C749.6,803 745.6,808 733.6,808.7" fill="none" stroke="#2aa12a" stroke-width="1.2" />
<line x1="504.7" y1="790.3" x2="504.7" y2="808.7" stroke="#0b8a0b" stroke-width="2.2" />
<line x1="733.1" y1="790.3" x2="733.1" y2="808.7" stroke="#0b8a0b" stroke-width="2.2" />
<line x1="504.7" y1="800.3" x2="733.1" y2="800.3" stroke="#0b8a0b" stroke-width="2.4" />
<line x1="504.7" y1="803.6" x2="733.1" y2="803.6" stroke="#2aa12a" stroke-width="1.0" />
<path d="M1126.5,790.3 H1357.3 M1126.5,808.7 H1357.3" fill="none" stroke="#2aa12a" stroke-width="1.4" />
<path d="M1126.5,790.3 C1114.5,791 1110.5,796 1110.5,799.5 C1110.5,803 1114.5,808 1126.5,808.7" fill="none" stroke="#2aa12a" stroke-width="1.2" />
<path d="M1357.3,790.3 C1369.3,791 1373.3,796 1373.3,799.5 C1373.3,803 1369.3,808 1357.3,808.7" fill="none" stroke="#2aa12a" stroke-width="1.2" />
<line x1="1127.0" y1="790.3" x2="1127.0" y2="808.7" stroke="#0b8a0b" stroke-width="2.2" />
<line x1="1356.8" y1="790.3" x2="1356.8" y2="808.7" stroke="#0b8a0b" stroke-width="2.2" />
<line x1="1127.0" y1="800.3" x2="1356.8" y2="800.3" stroke="#0b8a0b" stroke-width="2.4" />
<line x1="1127.0" y1="803.6" x2="1356.8" y2="803.6" stroke="#2aa12a" stroke-width="1.0" />
<rect x="600.4" y="768.7" width="39.4" height="19.4" fill="none" stroke="#2aa12a" stroke-width="1.5"/>
<text transform="translate(620.1,778.4) rotate(0)" y="6.3" font-family="'DejaVu Sans Light','DejaVu Sans','Liberation Sans',sans-serif" font-size="17.5" font-weight="200" fill="#151515" text-anchor="middle" textLength="32.4" lengthAdjust="spacingAndGlyphs" stroke="#151515" stroke-width="0.35">LED</text>
<rect x="1222.2" y="768.7" width="40.4" height="19.4" fill="none" stroke="#2aa12a" stroke-width="1.5"/>
<text transform="translate(1242.4,778.4) rotate(0)" y="6.3" font-family="'DejaVu Sans Light','DejaVu Sans','Liberation Sans',sans-serif" font-size="17.5" font-weight="200" fill="#151515" text-anchor="middle" textLength="33.4" lengthAdjust="spacingAndGlyphs" stroke="#151515" stroke-width="0.35">LED</text>
<path d="M1262.6,779.6L1264.6,777.0L1266.7,779.6L1268.7,777.0L1270.8,779.6L1272.8,777.0L1274.8,779.6L1276.9,777.0L1278.9,779.6L1280.9,777.0L1283.0,779.6L1285.0,777.0L1287.1,779.6L1289.1,777.0L1291.1,779.6L1293.2,777.0L1295.2,779.6L1297.3,777.0L1299.3,779.6L1301.3,777.0L1303.4,779.6L1305.4,777.0L1307.5,779.6L1309.5,777.0L1311.5,779.6L1313.6,777.0L1315.6,779.6L1317.7,777.0L1319.7,779.6L1321.7,777.0L1323.8,779.6L1325.8,777.0L1327.8,779.6L1329.9,777.0L1331.9,779.6L1334.0,777.0L1336.0,779.6" fill="none" stroke="#222" stroke-width="1.2" />
<path d="M1262.6,833.4L1264.6,830.8L1266.7,833.4L1268.7,830.8L1270.8,833.4L1272.8,830.8L1274.8,833.4L1276.9,830.8L1278.9,833.4L1280.9,830.8L1283.0,833.4L1285.0,830.8L1287.1,833.4L1289.1,830.8L1291.1,833.4L1293.2,830.8L1295.2,833.4L1297.3,830.8L1299.3,833.4L1301.3,830.8L1303.4,833.4L1305.4,830.8L1307.5,833.4L1309.5,830.8L1311.5,833.4L1313.6,830.8L1315.6,833.4L1317.7,830.8L1319.7,833.4L1321.7,830.8L1323.8,833.4L1325.8,830.8L1327.8,833.4L1329.9,830.8L1331.9,833.4L1334.0,830.8L1336.0,833.4" fill="none" stroke="#222" stroke-width="1.2" />
<path d="M1260.6,778.5 V833 M1338,778.5 V833" fill="none" stroke="#222" stroke-width="1.2" />
<text transform="translate(440.5,626.3) rotate(180)" y="18.4" font-family="'Liberation Sans',sans-serif" font-size="51.5" fill="#0a32bd" text-anchor="middle" textLength="66.0" lengthAdjust="spacingAndGlyphs" stroke="#0a32bd" stroke-width="0.3">UT</text>
<text transform="translate(1557.6,880.4) rotate(-90)" y="18.8" font-family="'Liberation Sans',sans-serif" font-size="52.5" fill="#0a32bd" text-anchor="middle" textLength="65.5" lengthAdjust="spacingAndGlyphs" stroke="#0a32bd" stroke-width="0.3">UT</text>
<path d="M364.8,597.3L373.1,578.3L381.4,597.3" fill="none" stroke="#3656bd" stroke-width="1.2" />
<path d="M497.3,597.3L504.9,578.3L513,597.3" fill="none" stroke="#3656bd" stroke-width="1.2" />
<path d="M391.3,599L401.5,578.3" fill="none" stroke="#3656bd" stroke-width="1.2" />
<path d="M477.2,578.3L485.9,598.3" fill="none" stroke="#3656bd" stroke-width="1.2" />
<path d="M438.5,624.6V597.3H455.9" fill="none" stroke="#3656bd" stroke-width="1.2" />
<path d="M424.4,623.8H452.6" fill="none" stroke="#3656bd" stroke-width="1.2" />
<path d="M457.9,578V599.8" fill="none" stroke="#2aa12a" stroke-width="1.2" />
<path d="M489.8,578V599.8" fill="none" stroke="#2aa12a" stroke-width="1.2" />
<path d="M455.9,599.8H510.5" fill="none" stroke="#2aa12a" stroke-width="1.2" />
<path d="M442.6,616 A15.5,15.5 0 0 1 473.6,616" fill="none" stroke="#2aa12a" stroke-width="1.2" />
<path d="M478.6,616 A15.5,15.5 0 0 1 509.6,616" fill="none" stroke="#2aa12a" stroke-width="1.2" />
<path d="M448,614 A10,10 0 0 1 468,614" fill="none" stroke="#2aa12a" stroke-width="1.2" />
<path d="M484,614 A10,10 0 0 1 504,614" fill="none" stroke="#2aa12a" stroke-width="1.2" />
<text transform="translate(459.0,613.0) rotate(0) scale(-1,1)" y="3.9" font-family="'Liberation Sans',sans-serif" font-size="11" fill="#2aa12a" text-anchor="middle" >FR</text>
<text transform="translate(494.0,613.0) rotate(0) scale(-1,1)" y="3.9" font-family="'Liberation Sans',sans-serif" font-size="11" fill="#2aa12a" text-anchor="middle" >FR</text>
<line x1="1512.8" y1="801.4" x2="1607.5" y2="801.4" stroke="#0a32bd" stroke-width="6.8" />
<path d="M1587.3,804.8L1606.5,811L1585.8,819.3" fill="none" stroke="#3656bd" stroke-width="1.2" />
<path d="M1585.8,936.8L1606.5,944.6L1585.8,952.4" fill="none" stroke="#3656bd" stroke-width="1.2" />
<path d="M1581,827.6L1606.5,840.6" fill="none" stroke="#3656bd" stroke-width="1.2" />
<path d="M1587.3,921.8L1606.5,914.6" fill="none" stroke="#3656bd" stroke-width="1.2" />
<path d="M1601.3,897L1589.4,920.8" fill="none" stroke="#3656bd" stroke-width="1.2" />
<path d="M1546.4,877.8H1586.8" fill="none" stroke="#3656bd" stroke-width="1.2" />
<path d="M1560.4,866V892.3" fill="none" stroke="#3656bd" stroke-width="1.2" />
<path d="M1584.2,876.3V949.8" fill="none" stroke="#2aa12a" stroke-width="1.2" />
<path d="M1584.2,897.5H1606.5" fill="none" stroke="#2aa12a" stroke-width="1.2" />
<path d="M1584.2,927H1606.5" fill="none" stroke="#2aa12a" stroke-width="1.2" />
<path d="M1567.5,882.3 A15.2,15.2 0 0 1 1567.5,912.7" fill="none" stroke="#2aa12a" stroke-width="1.2" />
<path d="M1567.5,911.8 A15.2,15.2 0 0 1 1567.5,942.2" fill="none" stroke="#2aa12a" stroke-width="1.2" />
<path d="M1567.5,887.5 A10,10 0 0 1 1567.5,907.5" fill="none" stroke="#2aa12a" stroke-width="1.2" />
<path d="M1567.5,917 A10,10 0 0 1 1567.5,937" fill="none" stroke="#2aa12a" stroke-width="1.2" />
<text transform="translate(1571.0,898.0) rotate(-90)" y="3.9" font-family="'Liberation Sans',sans-serif" font-size="11" fill="#2aa12a" text-anchor="middle" >FR</text>
<text transform="translate(1571.0,929.0) rotate(-90)" y="3.9" font-family="'Liberation Sans',sans-serif" font-size="11" fill="#2aa12a" text-anchor="middle" >FR</text>
<rect x="360.3" y="743.9" width="54.2" height="52.9" fill="none" stroke="#3333e6" stroke-width="1.4"/>
<rect x="414.5" y="743.9" width="41.3" height="52.9" fill="none" stroke="#2020e8" stroke-width="2.1"/>
<text transform="translate(448.4,771.0) rotate(90)" y="3.1" font-family="'Liberation Sans',sans-serif" font-size="8.6" font-weight="bold" fill="#2323e0" text-anchor="middle" >Sani</text>
<text transform="translate(439.6,771.0) rotate(90)" y="3.1" font-family="'Liberation Sans',sans-serif" font-size="8.6" font-weight="bold" fill="#2323e0" text-anchor="middle" >EANUM</text>
<text transform="translate(431.0,771.0) rotate(90)" y="3.1" font-family="'Liberation Sans',sans-serif" font-size="8.6" font-weight="bold" fill="#2323e0" text-anchor="middle" >IP44M</text>
<text transform="translate(423.0,771.0) rotate(90)" y="3.1" font-family="'Liberation Sans',sans-serif" font-size="8.6" font-weight="bold" fill="#2323e0" text-anchor="middle" >10VA</text>
<path d="M371.5,773.5L403.5,768.5" fill="none" stroke="#2aa12a" stroke-width="1.2" />
<path d="M384.7,765.4L392,784.4" fill="none" stroke="#2aa12a" stroke-width="1.2" />
<path d="M379,779L388,777.5" fill="none" stroke="#2aa12a" stroke-width="1.2" />
<path d="M394,764L401,773" fill="none" stroke="#2aa12a" stroke-width="1.2" />
<path d="M376,769L384,772" fill="none" stroke="#2aa12a" stroke-width="1.2" />
<path d="M386,787L398,783" fill="none" stroke="#2aa12a" stroke-width="1.2" />
<circle cx="363.4" cy="1029.6" r="14.3" fill="none" stroke="#5fa85f" stroke-width="1.4"/>
<polygon points="349.3,1029.6 369.9,1016.8 369.9,1042.4" fill="#089808" />
<circle cx="1139.0" cy="1042.6" r="14.3" fill="none" stroke="#5fa85f" stroke-width="1.4"/>
<polygon points="1139.0,1056.7 1126.2,1036.1 1151.8,1036.1" fill="#089808" />
<path d="M324.6,590H290.7L309.3,602.6H257.6" fill="none" stroke="#4aa84a" stroke-width="1.4" />
<polygon points="265.0,602.6 278.6,599.2 278.6,606.0" fill="#119511" />
<line x1="185.8" y1="636.0" x2="304.2" y2="636.0" stroke="#5f80cf" stroke-width="1.5" />
<polygon points="300.5,636.0 271.1,629.8 271.1,642.2" fill="#0a32bd" />
<text transform="translate(228.0,644.9) rotate(180)" y="4.4" font-family="'Liberation Sans',sans-serif" font-size="12.3" fill="#ff3030" text-anchor="middle" textLength="59.0" lengthAdjust="spacingAndGlyphs" >inkl. RSF</text>
<circle cx="237.6" cy="696.4" r="29.8" fill="none" stroke="#222" stroke-width="1.4"/>
<path d="M231,683.2V652.8 M225.5,652.8H236.6 M231,683.2L236.6,677.2" fill="none" stroke="#3656bd" stroke-width="1.3" />
<circle cx="258.5" cy="667.9" r="11.5" fill="none" stroke="#3656bd" stroke-width="1.3"/>
<line x1="266.9" y1="652.0" x2="250.1" y2="683.7" stroke="#3656bd" stroke-width="1.3" />
<path d="M203.5,684L210,672.5 M209.5,684.5L215.5,673" fill="none" stroke="#3656bd" stroke-width="1.3" />
<circle cx="1479.0" cy="1167.4" r="29.8" fill="none" stroke="#222" stroke-width="1.4"/>
<line x1="325.0" y1="339.0" x2="325.0" y2="546.0" stroke="#a162d2" stroke-width="1.4" />
<line x1="1626.2" y1="339.0" x2="1626.2" y2="546.0" stroke="#a162d2" stroke-width="1.4" />
<line x1="325.0" y1="361.0" x2="1626.2" y2="361.0" stroke="#a162d2" stroke-width="1.4" />
<polygon points="331.5,361.0 344.5,357.3 351.5,357.3 351.5,364.7 344.5,364.7" fill="#8a00cc" />
<polygon points="1619.7,361.0 1606.7,364.7 1599.7,364.7 1599.7,357.3 1606.7,357.3" fill="#8a00cc" />
<line x1="1637.8" y1="557.2" x2="1883.0" y2="557.2" stroke="#a162d2" stroke-width="1.4" />
<line x1="1637.8" y1="1080.2" x2="1883.0" y2="1080.2" stroke="#a162d2" stroke-width="1.4" />
<line x1="1861.4" y1="557.2" x2="1861.4" y2="1080.2" stroke="#a162d2" stroke-width="1.4" />
<polygon points="1861.4,563.7 1865.1,576.7 1865.1,583.7 1857.7,583.7 1857.7,576.7" fill="#8a00cc" />
<polygon points="1861.4,1073.7 1857.7,1060.7 1857.7,1053.7 1865.1,1053.7 1865.1,1060.7" fill="#8a00cc" />
<line x1="206.6" y1="833.6" x2="324.6" y2="833.6" stroke="#a162d2" stroke-width="1.4" />
<line x1="206.6" y1="1060.2" x2="324.6" y2="1060.2" stroke="#a162d2" stroke-width="1.4" />
<line x1="228.7" y1="833.6" x2="228.7" y2="1060.2" stroke="#a162d2" stroke-width="1.4" />
<polygon points="228.7,840.1 232.4,853.1 232.4,860.1 225.0,860.1 225.0,853.1" fill="#8a00cc" />
<polygon points="228.7,1053.7 225.0,1040.7 225.0,1033.7 232.4,1033.7 232.4,1040.7" fill="#8a00cc" />
<line x1="345.3" y1="1080.2" x2="345.3" y2="1198.6" stroke="#a162d2" stroke-width="1.4" />
<line x1="518.4" y1="1080.2" x2="518.4" y2="1198.6" stroke="#a162d2" stroke-width="1.4" />
<line x1="345.3" y1="1176.8" x2="518.4" y2="1176.8" stroke="#a162d2" stroke-width="1.4" />
<polygon points="351.8,1176.8 364.8,1173.1 371.8,1173.1 371.8,1180.5 364.8,1180.5" fill="#8a00cc" />
<polygon points="511.9,1176.8 498.9,1180.5 491.9,1180.5 491.9,1173.1 498.9,1173.1" fill="#8a00cc" />
<line x1="191.0" y1="995.0" x2="303.9" y2="995.0" stroke="#3656bd" stroke-width="1.3" />
<polygon points="191.0,995.0 219.0,989.0 219.0,1001.0" fill="#0a32bd" />
<circle cx="248.0" cy="984.9" r="22.6" fill="none" stroke="#2aa12a" stroke-width="1.3"/>
<path d="M231.4,985H249.4 M249.4,967.7V1002 M254.2,972.5V997.5 M259,977.5V992.5" fill="none" stroke="#2aa12a" stroke-width="1.3" />
<path d="M324.6,1047.4H272.8L291.5,1059.8" fill="none" stroke="#2aa12a" stroke-width="1.3" />
<polygon points="317.3,1047.4 301.8,1043.4 301.8,1051.4" fill="#0b8a0b" />
<path d="M573.4,1802.6V1246.4H607.3V1802.6 M1064.8,1802.6V1246.4H1097.4V1802.6" fill="none" stroke="#2a2a2a" stroke-width="1.35" />
<path d="M607.3,1253.5H1064.8 M607.3,1292.4H1064.8" fill="none" stroke="#2a2a2a" stroke-width="1.35" />
<path d="M573.4,1778.7H1097.4 M573.4,1802.8H1097.4" fill="none" stroke="#2a2a2a" stroke-width="1.35" />
<line x1="835.6" y1="1292.4" x2="835.6" y2="1778.7" stroke="#2a2a2a" stroke-width="1.35" />
<ellipse cx="593.4" cy="1261.0" rx="5.6" ry="7.8" fill="none" stroke="#2a2a2a" stroke-width="1.35"/>
<ellipse cx="1078.2" cy="1261.0" rx="5.6" ry="7.8" fill="none" stroke="#2a2a2a" stroke-width="1.35"/>
<ellipse cx="593.6" cy="1793.2" rx="3.6" ry="5.6" fill="none" stroke="#2a2a2a" stroke-width="1.35"/>
<ellipse cx="1077.6" cy="1793.2" rx="3.6" ry="5.6" fill="none" stroke="#2a2a2a" stroke-width="1.35"/>
<rect x="660.2" y="1263.5" width="65.2" height="20.8" fill="none" stroke="#2a2a2a" stroke-width="1.8"/>
<rect x="713.3" y="1266.6" width="9.9" height="15.4" fill="none" stroke="#2a2a2a" stroke-width="1.2"/>
<rect x="947.5" y="1263.5" width="65.2" height="20.8" fill="none" stroke="#2a2a2a" stroke-width="1.8"/>
<rect x="949.5" y="1266.6" width="9.3" height="15.4" fill="none" stroke="#2a2a2a" stroke-width="1.2"/>
<rect x="636.9" y="1309.1" width="162.4" height="147.5" fill="none" stroke="#2a2a2a" stroke-width="1.35"/>
<rect x="654.0" y="1325.6" width="128.2" height="113.7" fill="none" stroke="#2a2a2a" stroke-width="1.5"/>
<line x1="654.0" y1="1439.3" x2="782.2" y2="1439.3" stroke="#111" stroke-width="2.4" />
<line x1="782.0" y1="1325.6" x2="782.0" y2="1439.3" stroke="#111" stroke-width="2.2" />
<defs><pattern id="ht" width="17" height="17" patternUnits="userSpaceOnUse" patternTransform="translate(665.8,1337.4)"><path d="M-1,18L18,-1 M-9.5,9.5L9.5,-9.5 M7.5,26.5L26.5,7.5" stroke="#333" stroke-width="1.1" fill="none"/></pattern></defs>
<rect x="665.8" y="1337.4" width="104.6" height="90.1" fill="url(#ht)" stroke="#111" stroke-width="2.6"/>
<line x1="650.0" y1="1308.4" x2="659.6" y2="1308.4" stroke="#222" stroke-width="2" />
<line x1="701.5" y1="1308.4" x2="712.4" y2="1308.4" stroke="#222" stroke-width="2" />
<line x1="751.0" y1="1308.4" x2="763.6" y2="1308.4" stroke="#222" stroke-width="2" />
<defs><clipPath id="vc"><circle cx="994.3" cy="1326.5" r="17.3"/></clipPath></defs>
<g clip-path="url(#vc)"><line x1="970" x2="1020" y1="1310.5" y2="1310.5" stroke="#333" stroke-width="1.3"/><line x1="970" x2="1020" y1="1313.7" y2="1313.7" stroke="#333" stroke-width="1.3"/><line x1="970" x2="1020" y1="1316.9" y2="1316.9" stroke="#333" stroke-width="1.3"/><line x1="970" x2="1020" y1="1320.1" y2="1320.1" stroke="#333" stroke-width="1.3"/><line x1="970" x2="1020" y1="1323.3" y2="1323.3" stroke="#333" stroke-width="1.3"/><line x1="970" x2="1020" y1="1326.5" y2="1326.5" stroke="#333" stroke-width="1.3"/><line x1="970" x2="1020" y1="1329.7" y2="1329.7" stroke="#333" stroke-width="1.3"/><line x1="970" x2="1020" y1="1332.9" y2="1332.9" stroke="#333" stroke-width="1.3"/><line x1="970" x2="1020" y1="1336.1" y2="1336.1" stroke="#333" stroke-width="1.3"/><line x1="970" x2="1020" y1="1339.3" y2="1339.3" stroke="#333" stroke-width="1.3"/><line x1="970" x2="1020" y1="1342.5" y2="1342.5" stroke="#333" stroke-width="1.3"/></g>
<circle cx="994.3" cy="1326.5" r="17.3" fill="none" stroke="#555" stroke-width="1.0"/>
<rect x="612.7" y="1667.0" width="36.5" height="35.4" fill="none" stroke="#2a2a2a" stroke-width="1.35"/>
<rect x="1023.1" y="1729.8" width="36.5" height="34.7" fill="none" stroke="#2a2a2a" stroke-width="1.35"/>
<circle cx="1041.2" cy="1747.9" r="10.2" fill="none" stroke="#2a2a2a" stroke-width="1.35"/>
<line x1="631.1" y1="1654.0" x2="631.1" y2="1667.0" stroke="#ff5030" stroke-width="1.3" />
<line x1="649.2" y1="1683.2" x2="657.5" y2="1683.2" stroke="#ff5030" stroke-width="1.3" />
<line x1="1018.7" y1="1747.9" x2="1059.6" y2="1747.9" stroke="#ff4020" stroke-width="1.5" />
<line x1="463.4" y1="1683.2" x2="631.1" y2="1683.2" stroke="#a162d2" stroke-width="1.4" />
<line x1="463.4" y1="1803.3" x2="622.6" y2="1803.3" stroke="#a162d2" stroke-width="1.4" />
<line x1="485.4" y1="1629.4" x2="485.4" y2="1857.1" stroke="#a162d2" stroke-width="1.4" />
<polygon points="485.4,1676.7 481.7,1663.7 481.7,1656.7 489.1,1656.7 489.1,1663.7" fill="#8a00cc" />
<polygon points="485.4,1809.8 489.1,1822.8 489.1,1829.8 481.7,1829.8 481.7,1822.8" fill="#8a00cc" />
<line x1="573.4" y1="1664.3" x2="573.4" y2="1932.7" stroke="#a162d2" stroke-width="1.4" />
<line x1="631.1" y1="1683.2" x2="631.1" y2="1932.7" stroke="#a162d2" stroke-width="1.4" />
<line x1="520.3" y1="1911.0" x2="684.7" y2="1911.0" stroke="#a162d2" stroke-width="1.4" />
<polygon points="566.9,1911.0 553.9,1914.7 546.9,1914.7 546.9,1907.3 553.9,1907.3" fill="#8a00cc" />
<polygon points="637.6,1911.0 650.6,1907.3 657.6,1907.3 657.6,1914.7 650.6,1914.7" fill="#8a00cc" />
<line x1="1041.2" y1="1721.3" x2="1041.2" y2="1932.7" stroke="#a162d2" stroke-width="1.4" />
<line x1="1096.8" y1="1803.0" x2="1096.8" y2="1932.7" stroke="#a162d2" stroke-width="1.4" />
<line x1="987.6" y1="1911.0" x2="1152.0" y2="1911.0" stroke="#a162d2" stroke-width="1.4" />
<polygon points="1034.7,1911.0 1021.7,1914.7 1014.7,1914.7 1014.7,1907.3 1021.7,1907.3" fill="#8a00cc" />
<polygon points="1103.3,1911.0 1116.3,1907.3 1123.3,1907.3 1123.3,1914.7 1116.3,1914.7" fill="#8a00cc" />
<line x1="1059.6" y1="1747.9" x2="1231.7" y2="1747.9" stroke="#a162d2" stroke-width="1.4" />
<line x1="1108.0" y1="1803.3" x2="1231.7" y2="1803.3" stroke="#a162d2" stroke-width="1.4" />
<line x1="1209.7" y1="1524.6" x2="1209.7" y2="1857.1" stroke="#a162d2" stroke-width="1.4" />
<polygon points="1209.7,1741.4 1206.0,1728.4 1206.0,1721.4 1213.4,1721.4 1213.4,1728.4" fill="#8a00cc" />
<polygon points="1209.7,1809.8 1213.4,1822.8 1213.4,1829.8 1206.0,1829.8 1206.0,1822.8" fill="#8a00cc" />
</svg>
</body></html>
